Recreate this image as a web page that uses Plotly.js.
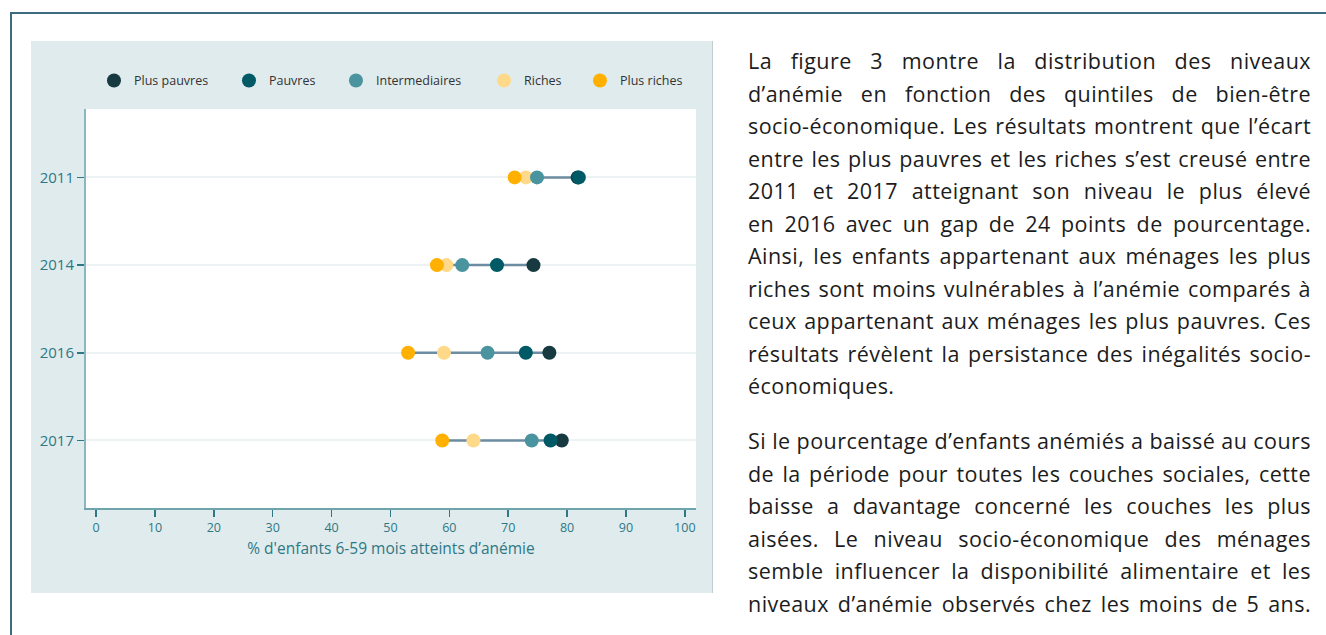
<!DOCTYPE html>
<html>
<head>
<meta charset="utf-8">
<script src="https://cdn.plot.ly/plotly-3.0.1.min.js"></script>
<style>
  html, body { margin:0; padding:0; background:#ffffff; width:1326px; height:635px; overflow:hidden; }
  #frame { position:absolute; left:10px; top:12px; width:1330px; height:640px;
           border-top:2px solid #3e6c7f; border-left:2px solid #3e6c7f; box-sizing:border-box; }
  #chart { position:absolute; left:31px; top:41px; width:681px; height:552px;
           border-right:1px solid #c3cdd0; box-sizing:content-box; }
  #text { position:absolute; left:748px; top:45px; width:563px;
          font-family:'Open Sans','Noto Sans',sans-serif; font-size:21.5px; letter-spacing:0.45px;
          color:#1c1c1c; line-height:32.5px; }
  .l { white-space:nowrap; text-align:justify; text-align-last:justify; }
  .e { white-space:nowrap; text-align:left; text-align-last:left; }
  #p2 { position:absolute; left:0; top:380px; width:563px; }
</style>
</head>
<body>
<div id="frame"></div>
<div id="chart"></div>
<div id="text">
  <div id="p1">
    <div class="l">La figure 3 montre la distribution des niveaux</div>
    <div class="l">d’anémie en fonction des quintiles de bien-être</div>
    <div class="l">socio-économique. Les résultats montrent que l’écart</div>
    <div class="l">entre les plus pauvres et les riches s’est creusé entre</div>
    <div class="l">2011 et 2017 atteignant son niveau le plus élevé</div>
    <div class="l">en 2016 avec un gap de 24 points de pourcentage.</div>
    <div class="l">Ainsi, les enfants appartenant aux ménages les plus</div>
    <div class="l">riches sont moins vulnérables à l’anémie comparés à</div>
    <div class="l">ceux appartenant aux ménages les plus pauvres. Ces</div>
    <div class="l">résultats révèlent la persistance des inégalités socio-</div>
    <div class="e">économiques.</div>
  </div>
  <div id="p2">
    <div class="l">Si le pourcentage d’enfants anémiés a baissé au cours</div>
    <div class="l">de la période pour toutes les couches sociales, cette</div>
    <div class="l">baisse a davantage concerné les couches les plus</div>
    <div class="l">aisées. Le niveau socio-économique des ménages</div>
    <div class="l">semble influencer la disponibilité alimentaire et les</div>
    <div class="l">niveaux d’anémie observés chez les moins de 5 ans.</div>
  </div>
</div>
<script>
// ---- data ----
const years = ['2011', '2014', '2016', '2017'];
const plusPauvres    = [81.8, 74.3, 77.0, 79.1];
const pauvres        = [82.0, 68.1, 73.0, 77.2];
const intermediaires = [74.9, 62.2, 66.5, 74.0];
const riches         = [73.0, 59.5, 59.1, 64.1];
const plusRiches     = [71.1, 57.9, 53.0, 58.8];
const seriesNames  = ['Plus pauvres', 'Pauvres', 'Intermediaires', 'Riches', 'Plus riches'];
const seriesValues = [plusPauvres, pauvres, intermediaires, riches, plusRiches];
const xTicks = [0, 10, 20, 30, 40, 50, 60, 70, 80, 90, 100];

// ---- styles ----
const colors = ['#163a40', '#005a66', '#4a949f', '#ffd98a', '#ffb000'];
const legendX = [0.0131, 0.2344, 0.4098, 0.6525, 0.8098];
const drawOrder = [3, 2, 4, 0, 1]; // riches, intermediaires, plus riches, plus pauvres, pauvres
const tickColor = '#2e7886';

const traces = [];
// connecting segments min -> max per year
years.forEach((y, i) => {
  const vals = seriesValues.map(s => s[i]);
  traces.push({
    type: 'scatter', mode: 'lines',
    x: [Math.min(...vals), Math.max(...vals)], y: [y, y],
    line: { color: '#6c8ca1', width: 2.5 },
    showlegend: false, hoverinfo: 'skip'
  });
});
drawOrder.forEach(k => {
  traces.push({
    type: 'scatter', mode: 'markers',
    name: seriesNames[k], x: seriesValues[k], y: years,
    legend: k === 0 ? 'legend' : 'legend' + (k + 1),
    marker: { color: colors[k], size: 14, line: { width: 0 } },
    hoverinfo: 'skip'
  });
});

const layout = {
  width: 681, height: 552,
  margin: { l: 55, r: 16, t: 68, b: 85 },
  paper_bgcolor: '#e0ebed', plot_bgcolor: '#ffffff',
  font: { family: "'Open Sans', sans-serif", color: tickColor, size: 12 },
  showlegend: true,
  xaxis: {
    range: [-1.7, 101.9], tickvals: xTicks, ticktext: xTicks.map(String),
    showgrid: false, zeroline: false,
    showline: true, linecolor: '#6ea5ad', linewidth: 2,
    ticks: 'outside', ticklen: 7, tickwidth: 1.5, tickcolor: tickColor,
    tickfont: { size: 12.5, color: tickColor },
    title: { text: "% d'enfants 6-59 mois atteints d’anémie", font: { size: 15.5, color: tickColor }, standoff: 8 }
  },
  yaxis: {
    type: 'category', categoryorder: 'array', categoryarray: years,
    range: [3.77, -0.78],
    showgrid: true, gridcolor: '#edf2f5', gridwidth: 2,
    zeroline: false, showline: true, linecolor: '#8ab6bd', linewidth: 2,
    ticks: 'outside', ticklen: 7, tickwidth: 1.5, tickcolor: tickColor,
    tickfont: { size: 15, color: tickColor }
  }
};
legendX.forEach((lx, k) => {
  layout[k === 0 ? 'legend' : 'legend' + (k + 1)] = {
    orientation: 'h', x: lx, xanchor: 'left', y: 1.0705, yanchor: 'middle',
    bgcolor: 'rgba(0,0,0,0)', font: { size: 12.5, color: '#333333' },
    itemclick: false, itemdoubleclick: false
  };
});

Plotly.newPlot('chart', traces, layout, { staticPlot: true, displayModeBar: false });
</script>
</body>
</html>
